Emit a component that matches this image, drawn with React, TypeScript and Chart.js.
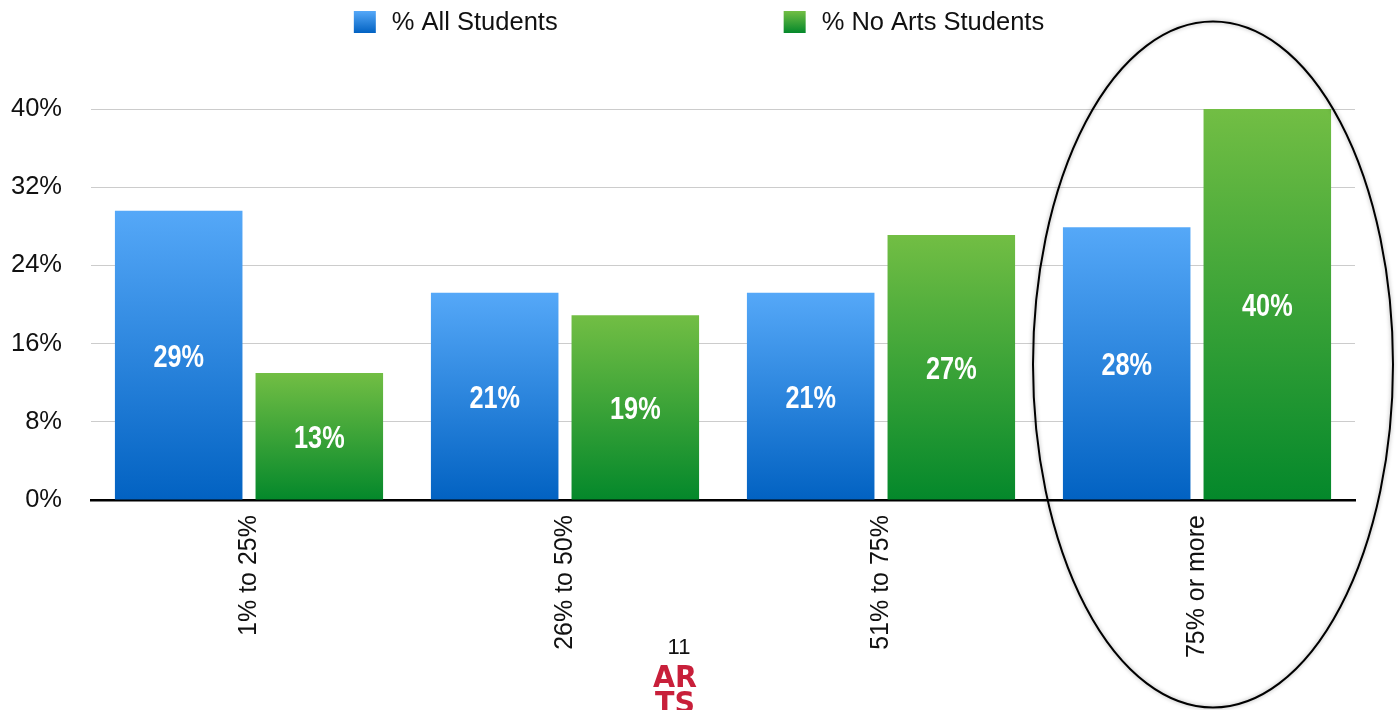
import React, { useEffect, useRef } from "react";
import { Chart, registerables } from "chart.js";

Chart.register(...registerables);

const categories = ["1% to 25%", "26% to 50%", "51% to 75%", "75% or more"];
const allStudents = [29.6, 21.2, 21.2, 27.9];
const noArtsStudents = [13.0, 18.9, 27.1, 40.0];
const allStudentsLabels = ["29%", "21%", "21%", "28%"];
const noArtsStudentsLabels = ["13%", "19%", "27%", "40%"];
const seriesNames = ["% All Students", "% No Arts Students"];
const yTicks = [0, 8, 16, 24, 32, 40];
const pageNumber = "11";

const FONT = '"Liberation Sans", Helvetica, Arial, sans-serif';

const blueStops: [string, string] = ["#55a8f8", "#0262c2"];
const greenStops: [string, string] = ["#72be44", "#04882b"];

function gradientColor(stops: [string, string]) {
  return (ctx: any) => {
    const chart = ctx.chart;
    const { chartArea, scales } = chart;
    if (!chartArea || ctx.type !== "data" || !scales.y) return stops[1];
    const top = scales.y.getPixelForValue(ctx.raw);
    const base = scales.y.getPixelForValue(0);
    const g = chart.ctx.createLinearGradient(0, top, 0, base);
    g.addColorStop(0, stops[0]);
    g.addColorStop(1, stops[1]);
    return g;
  };
}

const labelSets = [allStudentsLabels, noArtsStudentsLabels];
const stopSets = [blueStops, greenStops];

function narrowText(ctx: any, text: string, x: number, y: number, sx: number) {
  ctx.save();
  ctx.translate(x, y);
  ctx.scale(sx, 1);
  ctx.fillText(text, 0, 0);
  ctx.restore();
}

const dataLabelPlugin = {
  id: "dataLabels",
  afterDatasetsDraw(chart: any) {
    const ctx = chart.ctx;
    ctx.save();
    ctx.fillStyle = "#ffffff";
    ctx.font = `bold 32px ${FONT}`;
    ctx.textAlign = "center";
    ctx.textBaseline = "middle";
    chart.data.datasets.forEach((_ds: any, di: number) => {
      const meta = chart.getDatasetMeta(di);
      meta.data.forEach((bar: any, i: number) => {
        const y = (bar.y + bar.base) / 2 + 3;
        narrowText(ctx, labelSets[di][i], bar.x, y, 0.79);
      });
    });
    ctx.restore();
  },
};

const customLegendPlugin = {
  id: "customLegend",
  afterDraw(chart: any) {
    const ctx = chart.ctx;
    ctx.save();
    ctx.font = `25.5px ${FONT}`;
    const box = 22;
    const gapText = 16;
    const gapItems = 226;
    const widths = chart.data.datasets.map(
      (ds: any) => box + gapText + ctx.measureText(ds.label).width
    );
    const total = widths.reduce((a: number, b: number) => a + b, 0) + gapItems * (widths.length - 1);
    let x = (chart.width - total) / 2;
    const yTop = 11;
    chart.data.datasets.forEach((ds: any, i: number) => {
      const g = ctx.createLinearGradient(0, yTop, 0, yTop + box);
      g.addColorStop(0, stopSets[i][0]);
      g.addColorStop(1, stopSets[i][1]);
      ctx.fillStyle = g;
      ctx.fillRect(x, yTop, box, box);
      ctx.fillStyle = "#111";
      ctx.textBaseline = "middle";
      ctx.textAlign = "left";
      ctx.fillText(ds.label, x + box + gapText, yTop + box / 2 + 1);
      x += widths[i] + gapItems;
    });
    ctx.restore();
  },
};

const annotationPlugin = {
  id: "annotations",
  afterDraw(chart: any) {
    const ctx = chart.ctx;
    const { chartArea } = chart;
    const xs = chart.scales.x;
    ctx.save();
    // ellipse around last category
    const cx = xs.getPixelForValue(3) + 16;
    const cy = (chartArea.top + chartArea.bottom) / 2 + 60;
    ctx.beginPath();
    ctx.ellipse(cx, cy, 180, 343, 0, 0, Math.PI * 2);
    ctx.strokeStyle = "#000";
    ctx.lineWidth = 2;
    ctx.shadowColor = "rgba(0,0,0,0.35)";
    ctx.shadowBlur = 4;
    ctx.stroke();
    ctx.shadowBlur = 0;
    ctx.shadowColor = "transparent";
    // page number
    const px = (xs.getPixelForValue(1) + xs.getPixelForValue(2)) / 2 - 44;
    ctx.fillStyle = "#111";
    ctx.font = `22px ${FONT}`;
    ctx.textAlign = "center";
    ctx.textBaseline = "middle";
    ctx.fillText(pageNumber, px, 648);
    // logo
    ctx.fillStyle = "#c81f3a";
    ctx.font = `900 30px "DejaVu Sans", ${FONT}`;
    ctx.textBaseline = "alphabetic";
    narrowText(ctx, "AR", px - 4, 687, 0.95);
    narrowText(ctx, "TS", px - 4, 713, 0.95);
    ctx.restore();
  },
};

export default function App() {
  const canvasRef = useRef<HTMLCanvasElement | null>(null);

  useEffect(() => {
    if (!canvasRef.current) return;
    const chart = new Chart(canvasRef.current, {
      type: "bar",
      data: {
        labels: categories,
        datasets: [
          {
            label: seriesNames[0],
            data: allStudents,
            backgroundColor: gradientColor(blueStops),
            borderWidth: 0,
          },
          {
            label: seriesNames[1],
            data: noArtsStudents,
            backgroundColor: gradientColor(greenStops),
            borderWidth: 0,
          },
        ],
      },
      options: {
        responsive: false,
        animation: false,
        categoryPercentage: 0.89,
        barPercentage: 0.907,
        layout: { padding: { top: 109, right: 43, left: 0, bottom: 0 } },
        plugins: {
          legend: { display: false },
          tooltip: { enabled: false },
          title: { display: false },
        },
        scales: {
          x: {
            grid: { display: false, drawTicks: false },
            border: { display: true, color: "#000", width: 2.5 },
            ticks: {
              color: "#111",
              font: { family: FONT, size: 25 },
              maxRotation: 90,
              minRotation: 90,
              padding: 15,
            },
            afterFit: (scale: any) => {
              scale.height = 210;
            },
          },
          y: {
            min: 0,
            max: 40,
            afterBuildTicks: (scale: any) => {
              scale.ticks = yTicks.map((v) => ({ value: v }));
            },
            grid: { color: "#cccccc", lineWidth: 1, drawTicks: false },
            border: { display: false },
            ticks: {
              color: "#111",
              font: { family: FONT, size: 25.5 },
              padding: 29,
              callback: (v: any) => `${v}%`,
            },
            afterFit: (scale: any) => {
              scale.width = 91;
            },
          },
        },
      },
      plugins: [dataLabelPlugin, customLegendPlugin, annotationPlugin],
    });
    return () => chart.destroy();
  }, []);

  return (
    <div style={{ position: "absolute", left: 0, top: 0, width: 1398, height: 710, background: "#fff" }}>
      <canvas ref={canvasRef} width={1398} height={710} style={{ display: "block" }} />
    </div>
  );
}
